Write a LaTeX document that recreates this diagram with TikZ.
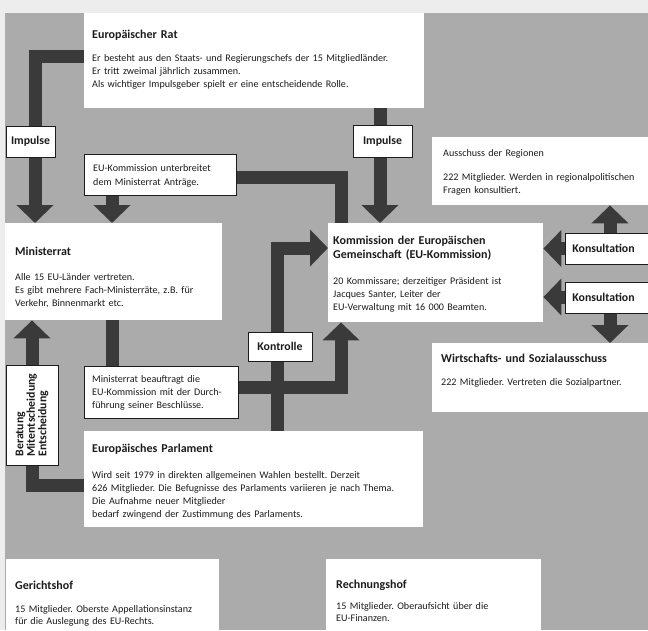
\documentclass[tikz,border=0pt]{standalone}
\usepackage{fontspec}
\setmainfont{Carlito}
\frenchspacing
\usetikzlibrary{arrows.meta}
\definecolor{bg}{HTML}{ABABAB}
\definecolor{paper}{HTML}{EDEDED}
\definecolor{arrowc}{HTML}{3A3A3A}
\definecolor{ink}{HTML}{1C1C1C}
\tikzset{
  bigbox/.style={fill=white, draw=none, inner sep=0pt, anchor=north west},
  framebox/.style={fill=white, draw=ink, line width=0.9pt, inner sep=0pt, anchor=north west},
  ttl/.style={font=\fontsize{12}{14}\selectfont\bfseries, inner sep=0pt, anchor=base west, text=ink, text width=300pt, align=left},
  bodytxt/.style={font=\fontsize{10.1}{13}\selectfont, inner sep=0pt, anchor=base west, align=left, text=ink, text width=340pt},
  lbl/.style={draw=ink, line width=0.9pt, fill=white, font=\fontsize{11.8}{11.5}\selectfont\bfseries, text=ink, inner sep=0pt},
  arr/.style={draw=arrowc, line width=13pt, -{Triangle[width=36pt,length=18pt]}},
  dbl/.style={draw=arrowc, line width=13pt, {Triangle[width=36pt,length=18pt]}-{Triangle[width=36pt,length=18pt]}},
  bar/.style={draw=arrowc, line width=13pt},
}
\begin{document}
\begin{tikzpicture}[x=1pt, y=-1pt]
\useasboundingbox (0,0) rectangle (648,630);
\fill[paper] (0,0) rectangle (648,630);
\fill[bg] (5,13) rectangle (648,630);

% big boxes
\node[bigbox, minimum width=340, minimum height=95] (rat) at (84,13) {};
\node[bigbox, minimum width=220, minimum height=68] (aus) at (432,137) {};
\node[bigbox, minimum width=215, minimum height=99] (kom) at (328,223) {};
\node[bigbox, minimum width=217, minimum height=97] (min) at (5,223) {};
\node[bigbox, minimum width=339, minimum height=96] (par) at (84,431) {};
\node[bigbox, minimum width=220, minimum height=69] (wsa) at (432,343) {};
\node[bigbox, minimum width=213, minimum height=75] (ger) at (6,559) {};
\node[bigbox, minimum width=215, minimum height=75] (rech) at (326,559) {};

% coordinates for bends
\coordinate (c1) at (35,56);
\coordinate (c2) at (380,0);
\coordinate (c3) at (341,177);
\coordinate (c3b) at (112,0);
\coordinate (c4) at (341,387);
\coordinate (c5) at (277,248);
\coordinate (c6) at (32,485);
\coordinate (c7) at (610,248.5);
\coordinate (c8) at (610,297);

% framed boxes (positions needed for arrows)
\node[framebox, minimum width=152, minimum height=41] (unt) at (84,154) {};
\node[framebox, minimum width=154, minimum height=52] (bea) at (84,366) {};

% arrows
\draw[arr] (rat.west |- c1) -- (c1) -- (c1 |- min.north);
\draw[arr] (rat.south -| c2) -- (kom.north -| c2);
\draw[bar] (unt.east |- c3) -- (c3) -- (c3 |- kom.north);
\draw[arr] (unt.south -| c3b) -- (min.north -| c3b);
\draw[bar] (min.south -| c3b) -- (bea.north -| c3b);
\draw[arr] (bea.east |- c4) -- (c4) -- (c4 |- kom.south);
\draw[arr] (par.north -| c5) -- (c5) -- (kom.west |- c5);
\draw[arr] (par.west |- c6) -- (c6) -- (c6 |- min.south);
\draw[dbl] (aus.south -| c7) -- (c7) -- (kom.east |- c7);
\draw[dbl] (kom.east |- c8) -- (c8) -- (c8 |- wsa.north);

% redraw framed boxes on top
\node[framebox, minimum width=152, minimum height=41] (untf) at (84,154) {};
\node[framebox, minimum width=154, minimum height=52] (beaf) at (84,366) {};

% labels on arrows
\node[lbl, minimum width=49, minimum height=31] (imp1) at (30.5,141.5) {Impulse};
\node[lbl, minimum width=59, minimum height=32] (imp2) at (382.5,141) {Impulse};
\node[lbl, minimum width=64, minimum height=29] (kon) at (280,346.5) {Kontrolle};
\node[lbl, rotate=90, minimum width=100, minimum height=52, align=left] (ber) at (32,415) {Beratung\\Mitentscheidung\\Entscheidung};
\node[lbl, anchor=west, minimum height=31, text width=76pt, inner xsep=7pt, align=left] (kons1) at (565,248.5) {Konsultation};
\node[lbl, anchor=west, minimum height=31, text width=76pt, inner xsep=7pt, align=left] (kons2) at (565,297.5) {Konsultation};

% texts
\node[ttl] (ratT) at (92,38) {Europäischer Rat};
\node[bodytxt] (ratB) at (92,61) {Er besteht aus den Staats- und Regierungschefs der 15 Mitgliedländer.\\Er tritt zweimal jährlich zusammen.\\Als wichtiger Impulsgeber spielt er eine entscheidende Rolle.};

\node[bodytxt] (ausT) at (443,156) {Ausschuss der Regionen};
\node[bodytxt] (ausB) at (443,180) {222 Mitglieder. Werden in regionalpolitischen\\Fragen konsultiert.};

\node[ttl] (komT) at (333,244) {Kommission der Europäischen\\Gemeinschaft (EU-Kommission)};
\node[bodytxt] (komB) at (333,284) {20 Kommissare; derzeitiger Präsident ist\\Jacques Santer, Leiter der\\EU-Verwaltung mit 16~000 Beamten.};

\node[ttl] (minT) at (15,255) {Ministerrat};
\node[bodytxt] (minB) at (15,280) {Alle 15 EU-Länder vertreten.\\Es gibt mehrere Fach-Ministerräte, z.B. für\\Verkehr, Binnenmarkt etc.};

\node[bodytxt, font=\fontsize{10.1}{14}\selectfont] (untB) at (93,171) {EU-Kommission unterbreitet\\dem Ministerrat Anträge.};
\node[bodytxt] (beaB) at (92,382) {Ministerrat beauftragt die\\EU-Kommission mit der Durch-\\führung seiner Beschlüsse.};

\node[ttl] (parT) at (92,452) {Europäisches Parlament};
\node[bodytxt] (parB) at (92,478) {Wird seit 1979 in direkten allgemeinen Wahlen bestellt. Derzeit\\626 Mitglieder. Die Befugnisse des Parlaments variieren je nach Thema.\\Die Aufnahme neuer Mitglieder\\bedarf zwingend der Zustimmung des Parlaments.};

\node[ttl] (wsaT) at (441,362) {Wirtschafts- und Sozialausschuss};
\node[bodytxt] (wsaB) at (441,385) {222 Mitglieder. Vertreten die Sozialpartner.};

\node[ttl] (gerT) at (15,589) {Gerichtshof};
\node[bodytxt, font=\fontsize{10.1}{12.5}\selectfont] (gerB) at (15,612) {15 Mitglieder. Oberste Appellationsinstanz\\für die Auslegung des EU-Rechts.};

\node[ttl] (rechT) at (336,588) {Rechnungshof};
\node[bodytxt, font=\fontsize{10.1}{12.5}\selectfont] (rechB) at (336,609) {15 Mitglieder. Oberaufsicht über die\\EU-Finanzen.};
\end{tikzpicture}
\end{document}
